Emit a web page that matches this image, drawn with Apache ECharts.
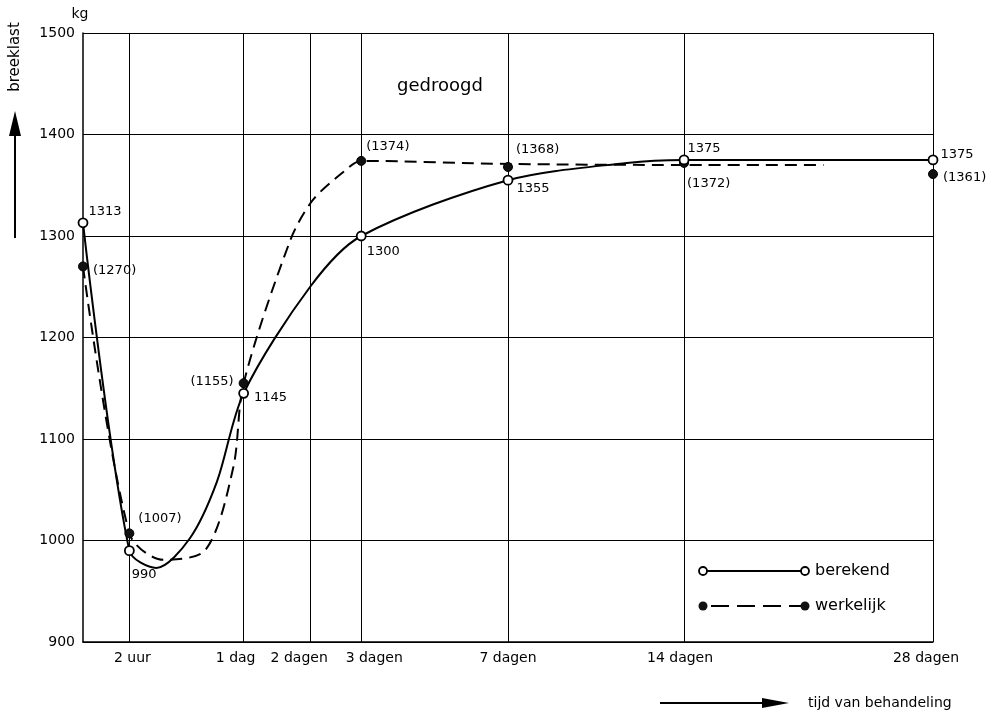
<!DOCTYPE html>
<html>
<head>
<meta charset="utf-8">
<title>gedroogd</title>
<script src="https://cdn.jsdelivr.net/npm/echarts@6/dist/echarts.min.js"></script>
<style>
  html, body { margin: 0; padding: 0; background: #fff; }
  #chart { width: 987px; height: 713px; }
</style>
</head>
<body>
<div id="chart"></div>
<script>
// tijd in uren, x-as loopt met de wortel van de tijd
const xTickHours = [2, 24, 48, 72, 168, 336, 672]
const xTickLabels = ['2 uur', '1 dag', '2 dagen', '3 dagen', '7 dagen', '14 dagen', '28 dagen']

// meetpunten
const berekendHours = [0, 2, 24, 72, 168, 336, 672]
const berekendValues = [1313, 990, 1145, 1300, 1355, 1375, 1375]
const werkelijkHours = [0, 2, 24, 72, 168, 336, 672]
const werkelijkValues = [1270, 1007, 1155, 1374, 1368, 1372, 1361]

const berekendCurveHours = [0, 2, 5, 10.6, 16.6, 24, 48, 72, 168, 275, 336, 672]
const berekendCurveValues = [1313, 990, 973, 1002, 1057, 1145, 1250, 1300, 1355, 1372, 1375, 1375]
const werkelijkCurveHours = [0, 2, 6, 14, 21, 24, 40, 49, 63, 72, 168, 336, 510]
const werkelijkCurveValues = [1270, 1007, 981, 991, 1072, 1155, 1296, 1335, 1363, 1374, 1371, 1370, 1370]

// verschuiving van de x-labels t.o.v. hun lijn (px)
const xLabelShift = [3, -8, -11, 13, 0, -4, -7]

// label plaatsing
const berekendLabelPos = [
  { position: 'right', offset: [-5, -11] },
  { position: 'right', offset: [-8, 24] },
  { position: 'right', offset: [0, 4] },
  { position: 'right', offset: [-5, 16] },
  { position: 'right', offset: [-2, 8] },
  { position: 'right', offset: [-7, -11] },
  { position: 'right', offset: [-3, -5] }
]
const werkelijkLabelPos = [
  { position: 'right', offset: [0, 4] },
  { position: 'right', offset: [-1, -15] },
  { position: 'left', offset: [0, -2] },
  { position: 'right', offset: [-5, -14] },
  { position: 'right', offset: [-2, -17] },
  { position: 'right', offset: [-7, 21] },
  { position: 'right', offset: [0, 4] }
]

const FONT = 'DejaVu Sans'
const sq = h => Math.sqrt(h)

function pairs (hours, values) {
  return hours.map((h, i) => [sq(h), values[i]])
}

let xRich = {}
xLabelShift.forEach((s, i) => {
  xRich['s' + i] = {
    fontFamily: FONT,
    fontSize: 14,
    color: '#000',
    padding: s >= 0 ? [0, 0, 0, 2 * s] : [0, -2 * s, 0, 0]
  }
})

let chart = echarts.init(document.getElementById('chart'), null, { renderer: 'canvas' })

let option = {
  backgroundColor: '#fff',
  animation: false,
  title: {
    text: 'gedroogd',
    left: 392,
    top: 72,
    textStyle: { fontFamily: FONT, fontSize: 18, fontWeight: 'normal', color: '#000' }
  },
  grid: {
    left: 83,
    right: 54,
    top: 33,
    bottom: 71,
    containLabel: false,
    outerBoundsMode: 'none'
  },
  xAxis: {
    type: 'value',
    min: 0,
    max: sq(672),
    axisLine: { show: true, lineStyle: { color: '#000', width: 1.5 } },
    axisTick: { show: false, customValues: xTickHours.map(sq) },
    axisLabel: {
      customValues: xTickHours.map(sq),
      margin: 9,
      color: '#000',
      fontFamily: FONT,
      fontSize: 14,
      rich: xRich,
      formatter: function (val) {
        let i = xTickHours.findIndex(h => Math.abs(sq(h) - val) < 1e-6)
        return i >= 0 ? '{s' + i + '|' + xTickLabels[i] + '}' : ''
      }
    },
    splitLine: { show: true, lineStyle: { color: '#000', width: 1 } }
  },
  yAxis: {
    type: 'value',
    min: 900,
    max: 1500,
    interval: 100,
    axisLine: { show: true, lineStyle: { color: '#000', width: 1.5 } },
    axisTick: { show: false },
    axisLabel: {
      margin: 8,
      color: '#000',
      fontFamily: FONT,
      fontSize: 14,
      formatter: v => String(v)
    },
    splitLine: { show: true, lineStyle: { color: '#000', width: 1 } }
  },
  series: [
    {
      name: 'berekend kromme',
      type: 'line',
      smooth: 0.3,
      showSymbol: false,
      data: pairs(berekendCurveHours, berekendCurveValues),
      lineStyle: { color: '#000', width: 2 },
      z: 2
    },
    {
      name: 'werkelijk kromme',
      type: 'line',
      smooth: 0.3,
      showSymbol: false,
      data: pairs(werkelijkCurveHours, werkelijkCurveValues),
      lineStyle: { color: '#000', width: 2, type: [12, 7] },
      z: 2
    },
    {
      name: 'werkelijk',
      type: 'scatter',
      symbol: 'circle',
      symbolSize: 9,
      itemStyle: { color: '#111', borderColor: '#000', borderWidth: 1, opacity: 1 },
      label: {
        show: true,
        color: '#000',
        fontFamily: FONT,
        fontSize: 13,
        formatter: p => '(' + p.value[1] + ')'
      },
      data: pairs(werkelijkHours, werkelijkValues).map((v, i) => ({ value: v, label: werkelijkLabelPos[i] })),
      z: 3
    },
    {
      name: 'berekend',
      type: 'scatter',
      symbol: 'circle',
      symbolSize: 9,
      itemStyle: { color: '#fff', borderColor: '#000', borderWidth: 1.8, opacity: 1 },
      label: {
        show: true,
        color: '#000',
        fontFamily: FONT,
        fontSize: 13,
        formatter: p => String(p.value[1])
      },
      data: pairs(berekendHours, berekendValues).map((v, i) => ({ value: v, label: berekendLabelPos[i] })),
      z: 4
    }
  ],
  graphic: [
    // eenheid
    { type: 'text', x: 80, y: 14, style: { text: 'kg', font: '14px "DejaVu Sans"', fill: '#000', textAlign: 'center', textVerticalAlign: 'middle' } },
    // y-as titel met pijl
    { type: 'text', x: 15, y: 57, rotation: Math.PI / 2, style: { text: 'breeklast', font: '15px "DejaVu Sans"', fill: '#000', textAlign: 'center', textVerticalAlign: 'middle' } },
    { type: 'line', shape: { x1: 15, y1: 238, x2: 15, y2: 128 }, style: { stroke: '#000', lineWidth: 2 } },
    { type: 'polygon', shape: { points: [[15, 111], [9, 136], [21, 136]] }, style: { fill: '#000' } },
    // x-as titel met pijl
    { type: 'line', shape: { x1: 660, y1: 703, x2: 770, y2: 703 }, style: { stroke: '#000', lineWidth: 1.8 } },
    { type: 'polygon', shape: { points: [[789, 703], [762, 698], [762, 708]] }, style: { fill: '#000' } },
    { type: 'text', x: 808, y: 703, style: { text: 'tijd van behandeling', font: '14px "DejaVu Sans"', fill: '#000', textAlign: 'left', textVerticalAlign: 'middle' } },
    // legenda
    { type: 'line', shape: { x1: 703, y1: 571, x2: 805, y2: 571 }, style: { stroke: '#000', lineWidth: 2 } },
    { type: 'circle', shape: { cx: 703, cy: 571, r: 4 }, style: { fill: '#fff', stroke: '#000', lineWidth: 1.8 } },
    { type: 'circle', shape: { cx: 805, cy: 571, r: 4 }, style: { fill: '#fff', stroke: '#000', lineWidth: 1.8 } },
    { type: 'text', x: 815, y: 571, style: { text: 'berekend', font: '16px "DejaVu Sans"', fill: '#000', textAlign: 'left', textVerticalAlign: 'middle' } },
    { type: 'line', shape: { x1: 703, y1: 606, x2: 805, y2: 606 }, style: { stroke: '#000', lineWidth: 2, lineDash: [18, 8], lineDashOffset: -8 } },
    { type: 'circle', shape: { cx: 703, cy: 606, r: 4.5 }, style: { fill: '#111' } },
    { type: 'circle', shape: { cx: 805, cy: 606, r: 4.5 }, style: { fill: '#111' } },
    { type: 'text', x: 815, y: 606, style: { text: 'werkelijk', font: '16px "DejaVu Sans"', fill: '#000', textAlign: 'left', textVerticalAlign: 'middle' } }
  ]
}

chart.setOption(option)
</script>
</body>
</html>
